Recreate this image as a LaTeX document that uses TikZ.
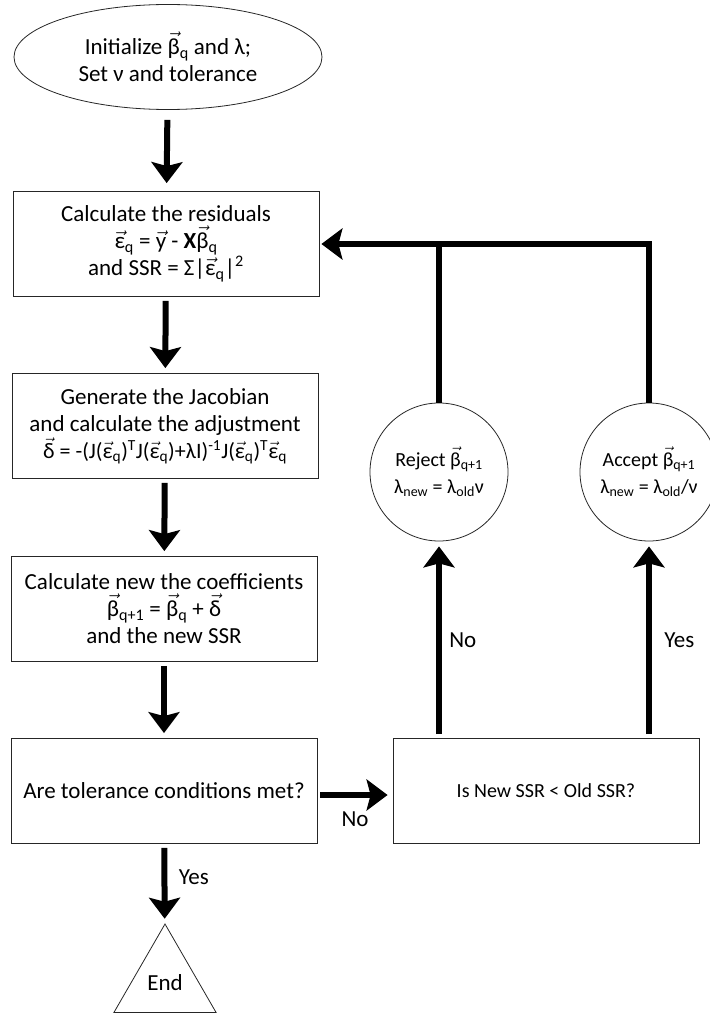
\documentclass[tikz,border=0pt]{standalone}
\usepackage{amsmath}
\usepackage{fontspec}
\setmainfont{Carlito}
\usepackage{tikz}
\usetikzlibrary{shapes.geometric,arrows.meta,positioning,calc}

\newcommand{\vecsym}[1]{\ensuremath{\vec{\text{#1}}}}
\newcommand{\lo}[1]{\textsubscript{#1}}
\newcommand{\hi}[1]{\textsuperscript{#1}}

\begin{document}
\begin{tikzpicture}[x=1pt, y=-1pt,
    font=\fontsize{23}{27}\selectfont,
    stepbox/.style={draw=black!85, line width=0.8pt, minimum width=306pt, minimum height=105pt, align=center},
    roundbox/.style={draw=black!85, line width=0.8pt, circle, minimum size=138pt, inner sep=0pt, align=center,
        font=\fontsize{20}{27}\selectfont},
    flow/.style={line width=6pt, -{Stealth[length=21pt,width=31pt,inset=4pt]}, shorten <=4pt, shorten >=5pt}]

    \useasboundingbox (0,0) rectangle (709,1014);

    % left column
    \node[draw=black!85, line width=0.8pt, ellipse, minimum width=308pt, minimum height=105pt, align=center] (init) at (168,57)
        {Initialize \vecsym{β}\lo{q} and λ;\\ Set ν and tolerance};
    \node[stepbox] (resid) at (166,244)
        {Calculate the residuals\\ \vecsym{ε}\lo{q} = \vecsym{y} - \textbf{X}\vecsym{β}\lo{q}\\ and SSR = Σ|\vecsym{ε}\lo{q}|\hi{2}};
    \node[stepbox] (jacob) at (165,426)
        {Generate the Jacobian\\ and calculate the adjustment\\ {\fontsize{22}{27}\selectfont
        \vecsym{δ} = -(J(\vecsym{ε}\lo{q})\hi{T}J(\vecsym{ε}\lo{q})+λI)\hi{-1}J(\vecsym{ε}\lo{q})\hi{T}\vecsym{ε}\lo{q}}};
    \node[stepbox] (coeff) at (164,609)
        {Calculate new the coefficients\\ \vecsym{β}\lo{q+1} = \vecsym{β}\lo{q} + \vecsym{δ}\\ and the new SSR};
    \node[stepbox] (tol) at (164,791) {Are tolerance conditions met?};
    \node[draw=black!85, line width=0.8pt, regular polygon, regular polygon sides=3, minimum size=118pt, inner sep=0pt] (finish) at (165,983) {End};

    % right column
    \node[stepbox, font=\fontsize{20}{27}\selectfont] (ssr) at (546,791) {Is New SSR < Old SSR?};
    \node[roundbox] (reject) at (439,472) {Reject \vecsym{β}\lo{q+1}\\ λ\lo{new} = λ\lo{old}ν};
    \node[roundbox] (accept) at (649,472) {Accept \vecsym{β}\lo{q+1}\\ λ\lo{new} = λ\lo{old}/ν};

    % connectors
    \draw[flow, shorten <=10pt, shorten >=8pt] (init) -- (resid);
    \draw[flow] (resid) -- (jacob);
    \draw[flow] (jacob) -- (coeff);
    \draw[flow] (coeff) -- (tol);
    \draw[flow] (tol) -- node[right=8pt, pos=0.42] {Yes} (finish);
    \draw[flow, shorten <=3pt] ([yshift=-4pt]tol.east) -- node[below=10pt] {No} ([yshift=-4pt]ssr.west);
    \draw[flow] (ssr.north -| reject) -- node[right=4pt] {No} (reject);
    \draw[flow] (ssr.north -| accept) -- node[right=9pt] {Yes} (accept);
    \draw[flow, shorten <=0pt, shorten >=2pt] (accept.north) |- (resid.east);
    \draw[line width=6pt] (reject.north) -- (reject.north |- resid.east);
\end{tikzpicture}
\end{document}
